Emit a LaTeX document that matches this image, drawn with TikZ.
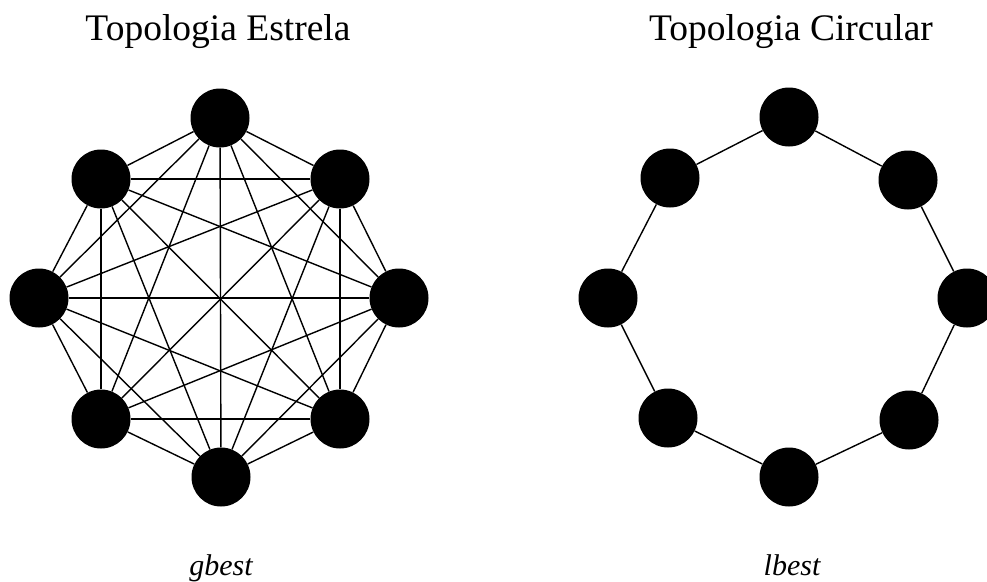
\documentclass[tikz,border=0pt]{standalone}
\usepackage{fontspec}
\setmainfont{Liberation Serif}
\begin{document}
\begin{tikzpicture}[x=1pt,y=-1pt,
  vert/.style={circle,fill=black,draw=none,minimum size=59pt,inner sep=0pt},
  link/.style={line width=1.4pt,black},
  ttl/.style={font=\fontsize{37.5}{42}\selectfont,anchor=base},
  lbl/.style={font=\fontsize{30}{34}\selectfont\itshape,anchor=base}]
\clip (0,0) rectangle (987,581);
\useasboundingbox (0,0) rectangle (987,581);
% titles
\node[ttl] (t1) at (218,40) {Topologia Estrela};
\node[ttl] (t2) at (791,40) {Topologia Circular};
\node[lbl] (l1) at (221,575) {gbest};
\node[lbl] (l2) at (792,575) {lbest};
% left: complete graph
\node[vert] (a1) at (220,118) {};
\node[vert] (a2) at (340,179) {};
\node[vert] (a3) at (399,298) {};
\node[vert] (a4) at (340,419) {};
\node[vert] (a5) at (221,477) {};
\node[vert] (a6) at (101,419) {};
\node[vert] (a7) at (39,298) {};
\node[vert] (a8) at (101,179) {};
\foreach \i in {1,...,7}{
  \pgfmathtruncatemacro{\s}{\i+1}
  \foreach \j in {\s,...,8}{
    \draw[link] (a\i) -- (a\j);
  }
}
% right: ring
\node[vert] (b1) at (789,117) {};
\node[vert] (b2) at (908,180) {};
\node[vert] (b3) at (967,298) {};
\node[vert] (b4) at (909,420) {};
\node[vert] (b5) at (789,477) {};
\node[vert] (b6) at (668,418) {};
\node[vert] (b7) at (608,298) {};
\node[vert] (b8) at (670,178) {};
\draw[link] (b1) -- (b2);
\draw[link] (b2) -- (b3);
\draw[link] (b3) -- (b4);
\draw[link] (b4) -- (b5);
\draw[link] (b5) -- (b6);
\draw[link] (b6) -- (b7);
\draw[link] (b7) -- (b8);
\draw[link] (b8) -- (b1);
\end{tikzpicture}
\end{document}
